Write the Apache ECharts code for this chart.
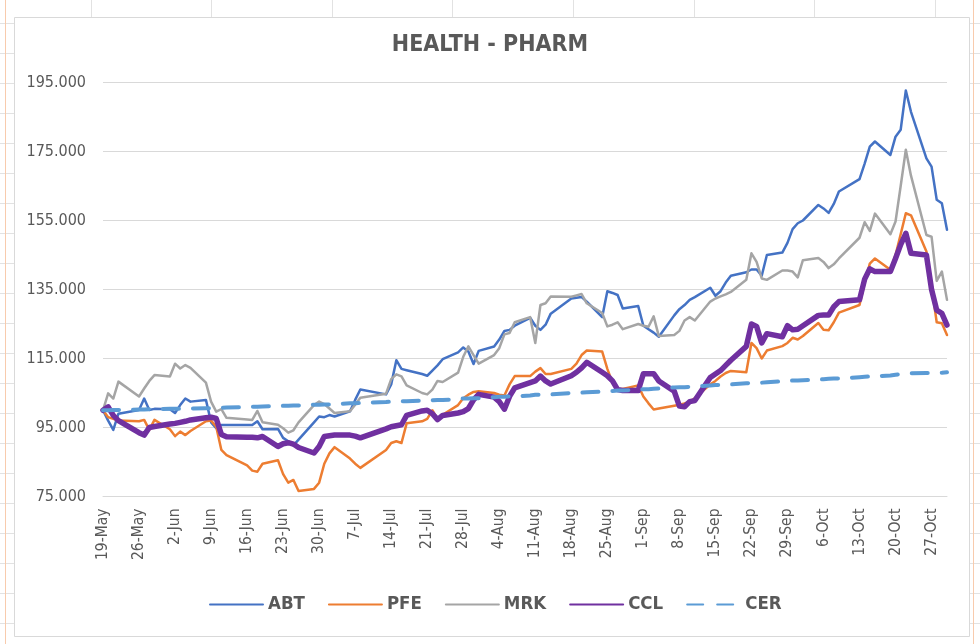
<!DOCTYPE html>
<html><head><meta charset="utf-8">
<script src="https://cdn.jsdelivr.net/npm/echarts@6/dist/echarts.min.js"></script>
<style>html,body{margin:0;padding:0;background:#fff}#c{width:980px;height:644px}</style>
</head><body><div id="c"></div><script>
const titleText = 'HEALTH - PHARM';
const seriesNames = ['ABT', 'PFE', 'MRK', 'CCL', 'CER'];
const dates = [
'2020-05-19','2020-05-20','2020-05-21','2020-05-22',
'2020-05-26','2020-05-27','2020-05-28','2020-05-29',
'2020-06-01','2020-06-02','2020-06-03','2020-06-04','2020-06-05',
'2020-06-08','2020-06-09','2020-06-10','2020-06-11','2020-06-12',
'2020-06-16','2020-06-17','2020-06-18','2020-06-19',
'2020-06-22','2020-06-23','2020-06-24','2020-06-25','2020-06-26',
'2020-06-29','2020-06-30','2020-07-01','2020-07-02','2020-07-03',
'2020-07-06','2020-07-07','2020-07-08',
'2020-07-13','2020-07-14','2020-07-15','2020-07-16','2020-07-17',
'2020-07-20','2020-07-21','2020-07-22','2020-07-23','2020-07-24',
'2020-07-27','2020-07-28','2020-07-29','2020-07-30','2020-07-31',
'2020-08-03','2020-08-04','2020-08-05','2020-08-06','2020-08-07',
'2020-08-10','2020-08-11','2020-08-12','2020-08-13','2020-08-14',
'2020-08-18','2020-08-19','2020-08-20','2020-08-21',
'2020-08-24','2020-08-25','2020-08-26','2020-08-27','2020-08-28',
'2020-08-31','2020-09-01','2020-09-02','2020-09-03','2020-09-04',
'2020-09-07','2020-09-08','2020-09-09','2020-09-10','2020-09-11',
'2020-09-14','2020-09-15','2020-09-16','2020-09-17','2020-09-18',
'2020-09-21','2020-09-22','2020-09-23','2020-09-24','2020-09-25',
'2020-09-28','2020-09-29','2020-09-30','2020-10-01','2020-10-02',
'2020-10-05','2020-10-06','2020-10-07','2020-10-08','2020-10-09',
'2020-10-13','2020-10-14','2020-10-15','2020-10-16',
'2020-10-19','2020-10-20','2020-10-21','2020-10-22','2020-10-23',
'2020-10-26','2020-10-27','2020-10-28','2020-10-29','2020-10-30'
];
const abt = [
100,97,94.3,99,
100.1,103.4,100.1,100.4,
100.3,99.2,101.5,103.4,102.5,
103,96.5,94.8,95.7,95.7,
95.7,95.7,96.8,94.5,
94.6,92,91,89.8,91.5,
96.5,98.2,98,98.6,98.2,
99.7,103,106,
104.6,107.5,114.5,112,111.6,
110.5,110,111.5,113,114.8,
116.8,118.2,117,113.4,117.2,
118.5,120.5,123,123.3,124.5,
126.8,124.5,123.3,124.8,128,
132.4,132.6,132.8,131.5,
127,134.5,134,133.4,129.5,
130.2,124.5,123.5,122.5,121.3,
127.5,129.3,130.5,132,132.8,
135.5,133.2,134.5,137,139,
140,140.8,140.8,139,145,
145.7,148.5,152.5,154.2,155,
159.5,158.5,157.2,159.8,163.4,
167,171.5,176.4,177.9,
174,179.3,181.3,192.7,186.5,
173,170.6,161,160,152.3
];
const pfe = [
100,98,97.5,97,
96.8,97.2,94.3,97.2,
94.5,92.5,93.8,92.8,94,
96.8,97,95.2,88.5,87,
84,82.5,82.2,84.5,
85.5,81.5,79,79.8,76.6,
77.2,79,84.5,87.5,89.3,
86,84.5,83.3,
88.5,90.5,91,90.5,96.2,
96.8,97.5,100,97.5,98.7,
101.5,103.5,104.5,105.3,105.5,
105,104.5,104.3,107.5,109.9,
109.9,111.2,112.2,110.5,110.5,
112,113.5,116,117.3,
117,112,108,106,106.2,
107.2,104,102,100.2,100.5,
101.3,101.6,102,102.5,103.5,
107.5,108.5,109.8,110.8,111.4,
111,119.5,118,115,117.3,
118.6,119.5,121,120.5,121.5,
125.3,123.3,123.2,125.5,128.3,
130.5,137,142.5,144,
140.7,145,151,157.1,156.5,
146,136,125.5,125.2,121.8
];
const mrk = [
100,104.9,103.4,108.3,
104,106.3,108.5,110.2,
109.8,113.5,112.1,113.1,112.3,
108,102.5,99.6,100.3,97.8,
97.3,97.2,99.8,96.5,
95.8,94.8,93.5,94.2,96.5,
101.5,102.5,101.8,100.5,99.2,
99.7,101.6,103.6,
104.8,109,110.4,109.8,107.2,
105,104.6,106,108.5,108.2,
110.9,115.5,118.5,116,113.5,
116,118,122,122.4,125.5,
127,119.5,130.5,131,133,
132.9,133.3,133.7,131,
128.2,124.3,124.8,125.5,123.5,
125,124.5,124.2,127.2,121.5,
121.8,123,126,127,126,
131.5,132.4,133,133.6,134.3,
137.8,145.5,143,138.2,137.8,
140.5,140.5,140.2,138.5,143.5,
144.1,143,141.2,142.3,144,
150,154.5,152,157,
151,154.7,165,175.5,168,
150.8,150.3,137.5,140.2,132
];
const ccl = [
100,101,98.5,97,
93.5,92.8,95,95.3,
96,96.2,96.5,96.8,97.2,
97.8,98,97.6,93,92.3,
92.2,92.2,92,92.4,
89.5,90.3,90.6,90.2,89.2,
87.6,89.5,92.4,92.6,92.8,
92.8,92.5,92,
94.6,95.2,95.5,95.8,98.5,
99.8,100,99,97.3,98.5,
99.2,99.6,100.5,103,104.6,
103.8,102.5,100.3,104,106.5,
108,108.5,109.9,108.5,107.6,
110,111,112.3,113.9,
111,110,108.5,106,105.7,
105.7,110.6,110.6,110.6,108.5,
105.5,101.2,101,102.5,102.8,
109.5,110.5,111.5,113,114.5,
118.5,125,124.3,119.5,122.2,
121.3,124.5,123.3,123.5,124.5,
127.5,127.6,127.6,130,131.5,
132,138,141,140.2,
140.2,144,148,151.3,145.5,
145,135,129,128.1,124.7
];
const cer = [
100.0,100.0,100.1,100.1,
100.2,100.2,100.3,100.3,
100.4,100.4,100.4,100.5,100.5,
100.6,100.6,100.7,100.7,100.8,
100.9,101.0,101.0,101.1,
101.2,101.3,101.3,101.4,101.4,
101.6,101.6,101.7,101.7,101.8,
102.0,102.0,102.1,
102.4,102.5,102.5,102.6,102.6,
102.8,102.9,102.9,103.0,103.0,
103.2,103.4,103.4,103.5,103.5,
103.8,103.9,103.9,104.0,104.0,
104.3,104.5,104.5,104.6,104.6,
105.0,105.0,105.1,105.2,
105.4,105.6,105.6,105.7,105.7,
106.0,106.1,106.1,106.2,106.3,
106.6,106.7,106.7,106.8,106.9,
107.2,107.3,107.3,107.4,107.5,
107.8,107.9,107.9,108.0,108.1,
108.4,108.5,108.6,108.6,108.7,
108.9,109.0,109.1,109.2,109.2,
109.6,109.7,109.8,109.8,
110.1,110.3,110.5,110.6,110.7,
110.8,110.8,110.9,110.9,111.0
];
const yMin = 75, yMax = 195, yStep = 20;
const xStepDays = 7;
const monthNames = ['Jan','Feb','Mar','Apr','May','Jun','Jul','Aug','Sep','Oct','Nov','Dec'];

const base = Date.UTC(2020, 4, 19);
function toDay(s) { const p = s.split('-').map(Number); return Math.round((Date.UTC(p[0], p[1]-1, p[2]) - base) / 86400000); }
const dayIdx = dates.map(toDay);
const lastDay = dayIdx[dayIdx.length - 1];
function pairs(v) { return dayIdx.map((d, i) => [d, v[i]]); }
function dayLabel(v) {
  if (v % xStepDays !== 0) return '';
  const dt = new Date(base + v * 86400000);
  return dt.getUTCDate() + '-' + monthNames[dt.getUTCMonth()];
}

const FONT = "'DejaVu Sans Condensed', 'Liberation Sans', sans-serif";
const GREY = '#595959';
const colors = { ABT: '#4472C4', PFE: '#ED7D31', MRK: '#A5A5A5', CCL: '#7030A0', CER: '#5B9BD5' };
const widths = { ABT: 2.5, PFE: 2.5, MRK: 2.5, CCL: 5.5, CER: 4 };
const values = { ABT: abt, PFE: pfe, MRK: mrk, CCL: ccl, CER: cer };

// decorative spreadsheet background & chart frame
const deco = [];
for (let y = 23; y < 644; y += 30) {
  deco.push({ type: 'line', shape: { x1: 0, y1: y + 0.5, x2: 14, y2: y + 0.5 }, style: { stroke: '#e2e2e2', lineWidth: 1 }, silent: true });
  deco.push({ type: 'line', shape: { x1: 970, y1: y + 0.5, x2: 980, y2: y + 0.5 }, style: { stroke: '#e2e2e2', lineWidth: 1 }, silent: true });
}
for (let x = 90.5; x < 980; x += 120.6) {
  deco.push({ type: 'line', shape: { x1: Math.round(x) + 0.5, y1: 0, x2: Math.round(x) + 0.5, y2: 17 }, style: { stroke: '#e2e2e2', lineWidth: 1 }, silent: true });
}
deco.push({ type: 'line', shape: { x1: 5.5, y1: 0, x2: 5.5, y2: 644 }, style: { stroke: '#f8cbad', lineWidth: 1 }, silent: true });
deco.push({ type: 'line', shape: { x1: 973.5, y1: 0, x2: 973.5, y2: 644 }, style: { stroke: '#f8cbad', lineWidth: 1 }, silent: true });
deco.push({ type: 'rect', shape: { x: 14.5, y: 17.5, width: 955, height: 619 }, style: { fill: '#ffffff', stroke: '#d9d9d9', lineWidth: 1 }, silent: true, z: -10 });

const chart = echarts.init(document.getElementById('c'), null, { renderer: 'canvas' });
chart.setOption({
  animation: false,
  backgroundColor: '#ffffff',
  graphic: { elements: deco },
  title: {
    text: titleText, left: 'center', top: 29,
    textStyle: { fontFamily: FONT, fontWeight: 'bold', fontSize: 23, color: GREY }
  },
  grid: { left: 103, right: 33, top: 82.5, bottom: 147.5, containLabel: false },
  legend: {
    data: seriesNames, left: 204, top: 590, itemWidth: 53, itemHeight: 18, itemGap: 23,
    itemStyle: { opacity: 0 },
    textStyle: { fontFamily: FONT, fontWeight: 'bold', fontSize: 18.5, color: GREY }
  },
  xAxis: {
    type: 'value', min: 0, max: lastDay, interval: xStepDays,
    axisLine: { show: true, lineStyle: { color: '#d9d9d9', width: 1 } },
    axisTick: { show: false },
    splitLine: { show: false },
    axisLabel: { rotate: 90, margin: 12, formatter: dayLabel, showMaxLabel: false,
      fontFamily: FONT, fontSize: 15.5, color: GREY }
  },
  yAxis: {
    type: 'value', min: yMin, max: yMax, interval: yStep,
    axisLine: { show: false }, axisTick: { show: false },
    splitLine: { lineStyle: { color: '#d9d9d9', width: 1 } },
    axisLabel: { margin: 17, formatter: v => v.toFixed(3), fontFamily: FONT, fontSize: 16, color: GREY }
  },
  series: seriesNames.map(n => ({
    name: n, type: 'line', data: pairs(values[n]), symbol: 'none', showSymbol: false,
    lineStyle: { color: colors[n], width: widths[n], type: n === 'CER' ? [16, 14] : 'solid', cap: 'round', join: 'round' },
    itemStyle: { color: colors[n] },
    emphasis: { disabled: true }
  }))
});
</script></body></html>
